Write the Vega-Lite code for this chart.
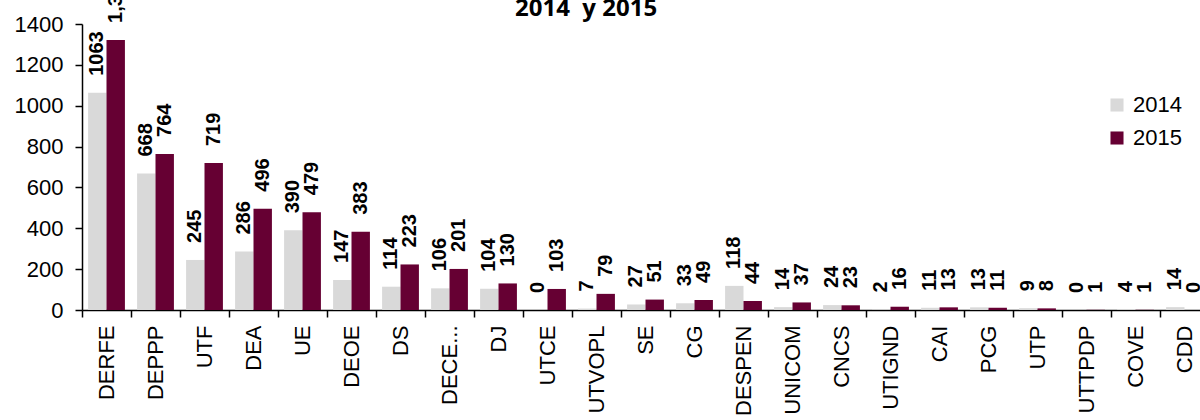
{
  "$schema": "https://vega.github.io/schema/vega-lite/v6.json",
  "width": 1118,
  "height": 286,
  "autosize": {"type": "none"},
  "padding": {"left": 82, "top": 24, "right": 0, "bottom": 110},
  "background": "white",
  "config": {"view": {"stroke": null}, "font": "Liberation Sans"},
  "title": {"text": "2014\u00a0 y 2015", "anchor": "start", "frame": "group", "dx": 433, "offset": 0, "dy": 67, "baseline": "alphabetic", "font": "Open Sans", "fontSize": 24, "fontWeight": "bold", "color": "black"},
  "data": {"values": [
    {"cat": "DERFE", "year": "2014", "value": 1063, "label": "1063"},
    {"cat": "DERFE", "year": "2015", "value": 1322, "label": "1,322"},
    {"cat": "DEPPP", "year": "2014", "value": 668, "label": "668"},
    {"cat": "DEPPP", "year": "2015", "value": 764, "label": "764"},
    {"cat": "UTF", "year": "2014", "value": 245, "label": "245"},
    {"cat": "UTF", "year": "2015", "value": 719, "label": "719"},
    {"cat": "DEA", "year": "2014", "value": 286, "label": "286"},
    {"cat": "DEA", "year": "2015", "value": 496, "label": "496"},
    {"cat": "UE", "year": "2014", "value": 390, "label": "390"},
    {"cat": "UE", "year": "2015", "value": 479, "label": "479"},
    {"cat": "DEOE", "year": "2014", "value": 147, "label": "147"},
    {"cat": "DEOE", "year": "2015", "value": 383, "label": "383"},
    {"cat": "DS", "year": "2014", "value": 114, "label": "114"},
    {"cat": "DS", "year": "2015", "value": 223, "label": "223"},
    {"cat": "DECE...", "year": "2014", "value": 106, "label": "106"},
    {"cat": "DECE...", "year": "2015", "value": 201, "label": "201"},
    {"cat": "DJ", "year": "2014", "value": 104, "label": "104"},
    {"cat": "DJ", "year": "2015", "value": 130, "label": "130"},
    {"cat": "UTCE", "year": "2014", "value": 0, "label": "0"},
    {"cat": "UTCE", "year": "2015", "value": 103, "label": "103"},
    {"cat": "UTVOPL", "year": "2014", "value": 7, "label": "7"},
    {"cat": "UTVOPL", "year": "2015", "value": 79, "label": "79"},
    {"cat": "SE", "year": "2014", "value": 27, "label": "27"},
    {"cat": "SE", "year": "2015", "value": 51, "label": "51"},
    {"cat": "CG", "year": "2014", "value": 33, "label": "33"},
    {"cat": "CG", "year": "2015", "value": 49, "label": "49"},
    {"cat": "DESPEN", "year": "2014", "value": 118, "label": "118"},
    {"cat": "DESPEN", "year": "2015", "value": 44, "label": "44"},
    {"cat": "UNICOM", "year": "2014", "value": 14, "label": "14"},
    {"cat": "UNICOM", "year": "2015", "value": 37, "label": "37"},
    {"cat": "CNCS", "year": "2014", "value": 24, "label": "24"},
    {"cat": "CNCS", "year": "2015", "value": 23, "label": "23"},
    {"cat": "UTIGND", "year": "2014", "value": 2, "label": "2"},
    {"cat": "UTIGND", "year": "2015", "value": 16, "label": "16"},
    {"cat": "CAI", "year": "2014", "value": 11, "label": "11"},
    {"cat": "CAI", "year": "2015", "value": 13, "label": "13"},
    {"cat": "PCG", "year": "2014", "value": 13, "label": "13"},
    {"cat": "PCG", "year": "2015", "value": 11, "label": "11"},
    {"cat": "UTP", "year": "2014", "value": 9, "label": "9"},
    {"cat": "UTP", "year": "2015", "value": 8, "label": "8"},
    {"cat": "UTTPDP", "year": "2014", "value": 0, "label": "0"},
    {"cat": "UTTPDP", "year": "2015", "value": 1, "label": "1"},
    {"cat": "COVE", "year": "2014", "value": 4, "label": "4"},
    {"cat": "COVE", "year": "2015", "value": 1, "label": "1"},
    {"cat": "CDD", "year": "2014", "value": 14, "label": "14"},
    {"cat": "CDD", "year": "2015", "value": 0, "label": "0"}
  ]},
  "encoding": {
    "x": {"field": "cat", "type": "nominal", "sort": null, "title": null,
      "scale": {"range": [0, 1127], "paddingInner": 0, "paddingOuter": 0},
      "axis": {"bandPosition": 0, "labelAngle": -90, "labelAlign": "right", "labelBaseline": "middle", "labelFontSize": 22, "labelFont": "Liberation Sans", "labelColor": "black", "labelPadding": 8, "tickSize": 7, "tickColor": "black", "domainColor": "black", "domainWidth": 1.5, "tickWidth": 1.5, "labelLimit": 200}},
    "xOffset": {"field": "year", "type": "nominal", "scale": {"paddingOuter": 0.33, "paddingInner": 0}},
    "y": {"field": "value", "type": "quantitative", "title": null,
      "scale": {"domain": [0, 1400], "nice": false},
      "axis": {"values": [0, 200, 400, 600, 800, 1000, 1200, 1400], "format": "d", "grid": false, "labelFontSize": 22, "labelFont": "Liberation Sans", "labelColor": "black", "labelPadding": 12, "tickSize": 7, "tickColor": "black", "domainColor": "black", "domainWidth": 1.5, "tickWidth": 1.5}}
  },
  "layer": [
    {"mark": {"type": "bar"},
      "encoding": {"color": {"field": "year", "type": "nominal", "title": null,
        "scale": {"domain": ["2014", "2015"], "range": ["#d9d9d9", "#660033"]},
        "legend": {"orient": "none", "legendX": 1024, "legendY": 70, "symbolType": "square", "symbolSize": 170, "symbolStrokeWidth": 0, "labelFontSize": 22, "labelFont": "Liberation Sans", "labelColor": "black", "rowPadding": 11, "labelOffset": 5}}}},
    {"mark": {"type": "text", "angle": 270, "align": "left", "baseline": "middle", "dx": 17, "font": "Liberation Sans", "fontSize": 20, "fontWeight": "bold", "color": "black"},
      "encoding": {"text": {"field": "label", "type": "nominal"}}}
  ]
}
